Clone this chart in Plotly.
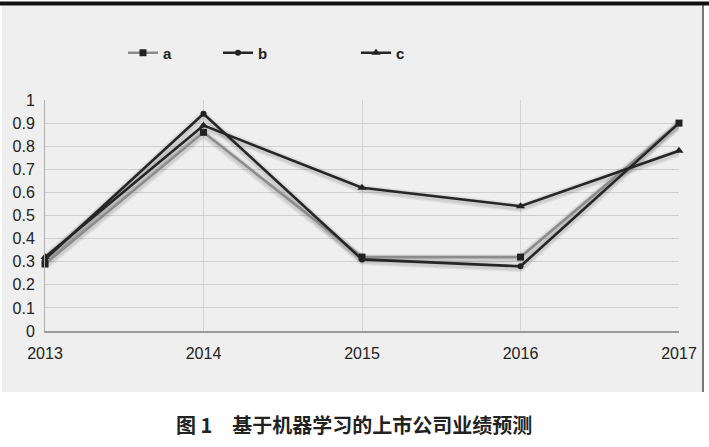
import plotly.graph_objects as go

years = ["2013", "2014", "2015", "2016", "2017"]
a_vals = [0.29, 0.86, 0.32, 0.32, 0.90]
b_vals = [0.31, 0.94, 0.31, 0.28, 0.90]
c_vals = [0.32, 0.89, 0.62, 0.54, 0.78]
y_ticks = [0, 0.1, 0.2, 0.3, 0.4, 0.5, 0.6, 0.7, 0.8, 0.9, 1]
y_labels = ["0", "0.1", "0.2", "0.3", "0.4", "0.5", "0.6", "0.7", "0.8", "0.9", "1"]
caption = "图 1　基于机器学习的上市公司业绩预测"

W, H = 709, 447
L, R, T, B = 45, 30, 100, 116
pw, ph = W - L - R, H - T - B

def px_x(p):
    return (p - L) / pw

def px_y(p):
    return (H - B - p) / ph

fig = go.Figure()

series = [
    ("a", a_vals, "#8c8c8c", "square", 7, "legend"),
    ("b", b_vals, "#262626", "circle", 6, "legend2"),
    ("c", c_vals, "#262626", "triangle-up", 8, "legend3"),
]

xs = list(range(len(years)))
# soft shadows
for name, vals, col, sym, ms, lg in series:
    for w, a in [(9, 0.06), (6, 0.08)]:
        fig.add_trace(go.Scatter(x=xs, y=[v - 0.006 for v in vals], mode="lines",
                                 line=dict(color=f"rgba(0,0,0,{a})", width=w),
                                 showlegend=False, hoverinfo="skip", cliponaxis=False))
for name, vals, col, sym, ms, lg in series:
    fig.add_trace(go.Scatter(x=xs, y=vals, mode="lines+markers", name=name,
                             line=dict(color=col, width=2.6),
                             marker=dict(symbol=sym, size=ms, color="#222222"),
                             legend=lg, cliponaxis=False))

leg_common = dict(orientation="h", bgcolor="rgba(0,0,0,0)", yanchor="middle",
                  xanchor="left", font=dict(family="Liberation Sans, Arial", size=15, color="#222", weight=600),
                  itemwidth=30)

fig.update_layout(
    width=W, height=H,
    margin=dict(l=L, r=R, t=T, b=B, autoexpand=False),
    paper_bgcolor="white",
    plot_bgcolor="#efefef",
    font=dict(family="Liberation Sans, Arial", size=16, color="#222"),
    legend=dict(x=px_x(123), y=px_y(53), **leg_common),
    legend2=dict(x=px_x(218), y=px_y(53), **leg_common),
    legend3=dict(x=px_x(356), y=px_y(53), **leg_common),
    xaxis=dict(tickmode="array", tickvals=xs, ticktext=years, range=[0, 4],
               showgrid=True, gridcolor="#d4d4d4", gridwidth=1,
               showline=True, linecolor="#9a9a9a", linewidth=1.5,
               ticks="", tickfont=dict(size=16, color="#222"), zeroline=False,
               ticklabelstandoff=7, automargin=False),
    yaxis=dict(tickmode="array", tickvals=y_ticks, ticktext=y_labels, range=[0, 1],
               showgrid=True, gridcolor="#cfcfcf", gridwidth=1,
               showline=True, linecolor="#b0b0b0", linewidth=1,
               ticks="", tickfont=dict(size=16, color="#222"), zeroline=False,
               ticklabelstandoff=6, automargin=False),
    shapes=[
        dict(type="rect", xref="paper", yref="paper", layer="below",
             x0=px_x(2), x1=px_x(704), y0=px_y(392), y1=px_y(6),
             fillcolor="#efefef", line=dict(width=0)),
        dict(type="line", xref="paper", yref="paper",
             x0=px_x(703), x1=px_x(703), y0=px_y(392), y1=px_y(5),
             line=dict(color="#777", width=2)),
        dict(type="line", xref="paper", yref="paper",
             x0=px_x(0), x1=px_x(709), y0=px_y(3.5), y1=px_y(3.5),
             line=dict(color="#111", width=4)),
    ],
    annotations=[
        dict(text=caption, xref="paper", yref="paper", x=px_x(354), y=px_y(424),
             xanchor="center", yanchor="middle", showarrow=False,
             font=dict(family="Noto Sans CJK SC", size=20, color="#222", weight=600)),
    ],
)

fig.write_html("out.html", config={"displayModeBar": False},
               post_script="document.body.style.margin='0';")
